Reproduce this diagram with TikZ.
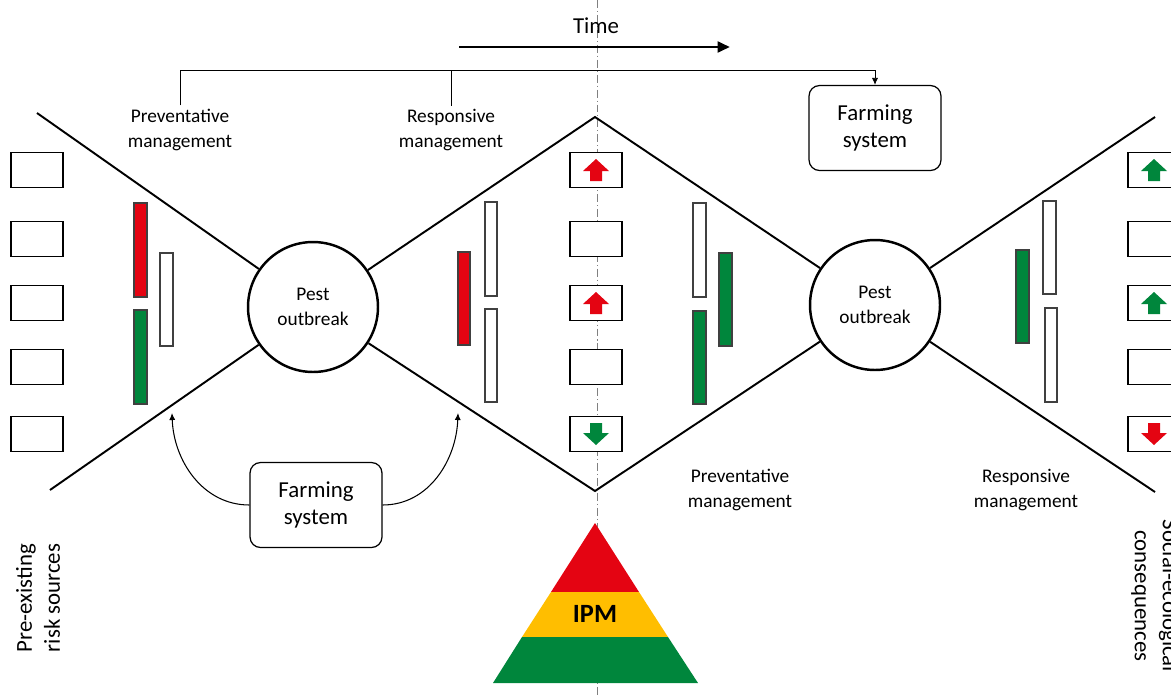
\documentclass[tikz,border=0pt]{standalone}
\usepackage{fontspec}
\setmainfont{Carlito}
\usetikzlibrary{arrows.meta}
\definecolor{ipmred}{RGB}{228,4,18}
\definecolor{ipmgreen}{RGB}{0,134,60}
\definecolor{ipmyellow}{RGB}{255,190,0}

\begin{document}
\begin{tikzpicture}[
    x=0.02cm,
    y=-0.02cm,
    >={Latex[length=4pt,width=3.5pt]},
    font=\fontsize{11}{14}\selectfont,
    funnel/.style={line width=1.1pt},
    riskbox/.style={draw,fill=white,line width=0.8pt,minimum width=1.04cm,
        minimum height=0.7cm,inner sep=0pt},
    bar/.style={draw=black!75,line width=0.6pt},
    outbreak/.style={draw,circle,fill=white,line width=1.4pt,minimum size=2.6cm,
        align=center,inner sep=0pt},
    farmbox/.style={draw,rounded corners=6pt,line width=0.7pt,minimum width=2.64cm,
        minimum height=1.7cm,align=center,font=\fontsize{13}{15.5}\selectfont},
    mgmt/.style={align=center,inner sep=2pt},
    uparr/.pic={\fill (-6,11) -- (-6,1) -- (-13,1) -- (0,-11) -- (13,1) -- (6,1) -- (6,11) -- cycle;}
]
    \useasboundingbox (0,0) rectangle (1171,697);
    \clip (0,0) rectangle (1171,697);

    % Eje del tiempo
    \draw[gray,line width=0.5pt,dash pattern=on 4.5pt off 1.7pt on 0.6pt off 1.7pt]
        (597,0) -- (597,697);
    \node[font=\fontsize{13}{15}\selectfont] (time) at (596,26) {Time};
    \coordinate (t0) at (459,47);
    \coordinate (t1) at (730,47);
    \draw[-{Triangle[length=7pt,width=6pt]},line width=1.7pt] (t0) -- (t1);

    % Etiquetas de manejo
    \node[mgmt] (pm1) at (180,130) {Preventative\\management};
    \node[mgmt] (rm1) at (451,130) {Responsive\\management};
    \node[mgmt] (pm2) at (740,490) {Preventative\\management};
    \node[mgmt] (rm2) at (1026,490) {Responsive\\management};

    \node[farmbox] (fs1) at (875,128) {Farming\\system};
    \node[farmbox] (fs2) at (316,505) {Farming\\system};

    \draw[line width=0.5pt,->] (pm1.north) |- (fs1.north |- 0,70) -- (fs1.north);
    \draw[line width=0.5pt] (rm1.north) -- (rm1.north |- 0,70);

    % Brotes y embudos
    \node[outbreak] (po1) at (313,307) {Pest\\outbreak};
    \node[outbreak] (po2) at (875,305) {Pest\\outbreak};
    \coordinate (tl) at (37,113);
    \coordinate (bl) at (50,490);
    \coordinate (ta) at (595,117);
    \coordinate (ba) at (595,491);
    \coordinate (tr) at (1155,117);
    \coordinate (br) at (1155,492);
    \draw[funnel] (tl) -- (po1);
    \draw[funnel] (bl) -- (po1);
    \draw[funnel] (po1) -- (ta) -- (po2);
    \draw[funnel] (po1) -- (ba) -- (po2);
    \draw[funnel] (po2) -- (tr);
    \draw[funnel] (po2) -- (br);

    % Cajas de riesgo y consecuencias
    \foreach \i/\y in {1/170,2/239,3/303,4/367,5/434} {
        \node[riskbox] (l\i) at (37,\y) {};
        \node[riskbox] (m\i) at (596,\y) {};
        \node[riskbox] (r\i) at (1154,\y) {};
    }
    \pic[ipmred] at (m1) {uparr};
    \pic[ipmred] at (m3) {uparr};
    \pic[ipmgreen,rotate=180] at (m5) {uparr};
    \pic[ipmgreen] at (r1) {uparr};
    \pic[ipmgreen] at (r3) {uparr};
    \pic[ipmred,rotate=180] at (r5) {uparr};

    % Barras
    \draw[bar,fill=ipmred] (134,203) rectangle (147,297);
    \draw[bar,fill=ipmgreen] (134,310) rectangle (147,404);
    \draw[bar,fill=white] (160,253) rectangle (173,346);
    \draw[bar,fill=ipmred] (458,252) rectangle (470,345);
    \draw[bar,fill=white] (485,202) rectangle (497,296);
    \draw[bar,fill=white] (485,309) rectangle (497,402);
    \draw[bar,fill=white] (693,203) rectangle (706,297);
    \draw[bar,fill=ipmgreen] (693,311) rectangle (706,404);
    \draw[bar,fill=ipmgreen] (719,253) rectangle (732,346);
    \draw[bar,fill=ipmgreen] (1016,250) rectangle (1029,343);
    \draw[bar,fill=white] (1043,201) rectangle (1056,294);
    \draw[bar,fill=white] (1045,308) rectangle (1057,402);

    % Influencia del sistema agrícola
    \coordinate (pa) at (172,413);
    \coordinate (ra) at (458,413);
    \draw[->,line width=0.6pt] (fs2.west) to[out=180,in=-88] (pa);
    \draw[->,line width=0.6pt] (fs2.east) to[out=0,in=-92] (ra);

    % Pirámide MIP
    \fill[ipmred] (595,523) -- (551,592) -- (639,592) -- cycle;
    \fill[ipmyellow] (551,592) -- (522,637) -- (668,637) -- (639,592) -- cycle;
    \fill[ipmgreen] (522,637) -- (493,683) -- (698,683) -- (668,637) -- cycle;
    \node[font=\bfseries\fontsize{15}{18}\selectfont] (ipm) at (595,614) {IPM};

    % Textos laterales
    \node[rotate=90,align=center,font=\fontsize{13}{16}\selectfont] (src)
        at (38,598) {Pre-existing\\risk sources};
    \node[rotate=-90,align=center,font=\fontsize{13}{16}\selectfont] (csq)
        at (1155,596) {Social-ecological\\consequences};
\end{tikzpicture}
\end{document}
